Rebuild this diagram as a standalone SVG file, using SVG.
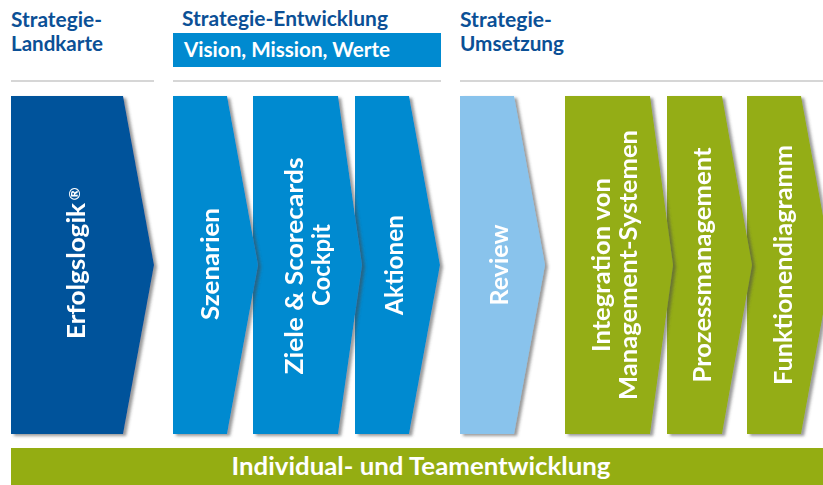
<svg xmlns="http://www.w3.org/2000/svg" width="823" height="485" viewBox="0 0 823 485">
<defs>
<filter id="sh" x="-10%" y="-5%" width="130%" height="115%">
<feDropShadow dx="3" dy="2" stdDeviation="1.6" flood-color="#4a4a4a" flood-opacity="0.55"/>
</filter>
<style>
.hd{font-family:Lato,"Liberation Sans",sans-serif;font-weight:700;font-size:20px;fill:#0b5096}
.lb{font-family:Lato,"Liberation Sans",sans-serif;font-weight:700;font-size:25px;fill:#ffffff}
.rule{stroke:#c8c8c8;stroke-width:1.5;fill:none}
.dk{fill:#00539b}
.md{fill:#008ad0}
.lt{fill:#89c3ec}
.gr{fill:#94ad12}
</style>
</defs>
<rect width="823" height="485" fill="#ffffff"/>

<g id="headings">
<text class="hd" x="11" y="27" textLength="91" lengthAdjust="spacingAndGlyphs">Strategie-</text>
<text class="hd" x="11" y="51" textLength="92" lengthAdjust="spacingAndGlyphs">Landkarte</text>
<text class="hd" x="182" y="26" textLength="206" lengthAdjust="spacingAndGlyphs">Strategie-Entwicklung</text>
<text class="hd" x="460" y="27" textLength="92" lengthAdjust="spacingAndGlyphs">Strategie-</text>
<text class="hd" x="460" y="51" textLength="104" lengthAdjust="spacingAndGlyphs">Umsetzung</text>
</g>

<g id="vision">
<rect x="173" y="33" width="268" height="34" fill="#008ad0"/>
<text class="hd" x="184" y="57" style="fill:#ffffff" textLength="206" lengthAdjust="spacingAndGlyphs">Vision, Mission, Werte</text>
</g>

<g id="rules">
<line class="rule" x1="11" y1="81" x2="154" y2="81"/>
<line class="rule" x1="173" y1="81" x2="441" y2="81"/>
<line class="rule" x1="460" y1="81" x2="823" y2="81"/>
</g>

<g id="funktionendiagramm" filter="url(#sh)">
<polygon class="gr" points="747,96 801,96 832,265 801,434 747,434"/>
<text class="lb" transform="translate(792,265) rotate(-90)" text-anchor="middle" textLength="240" lengthAdjust="spacingAndGlyphs">Funktionendiagramm</text>
</g>
<g id="prozessmanagement" filter="url(#sh)">
<polygon class="gr" points="667,96 722,96 752,265 722,434 667,434"/>
<text class="lb" transform="translate(711,265) rotate(-90)" text-anchor="middle" textLength="235" lengthAdjust="spacingAndGlyphs">Prozessmanagement</text>
</g>
<g id="integration" filter="url(#sh)">
<polygon class="gr" points="565,96 650,96 673,265 650,434 565,434"/>
<text class="lb" transform="translate(610,265) rotate(-90)" text-anchor="middle" textLength="174" lengthAdjust="spacingAndGlyphs">Integration von</text>
<text class="lb" transform="translate(637,265) rotate(-90)" text-anchor="middle" textLength="270" lengthAdjust="spacingAndGlyphs">Management-Systemen</text>
</g>
<g id="review" filter="url(#sh)">
<polygon class="lt" points="460,96 514,96 545,265 514,434 460,434"/>
<text class="lb" transform="translate(508,265) rotate(-90)" text-anchor="middle">Review</text>
</g>
<g id="aktionen" filter="url(#sh)">
<polygon class="md" points="355,96 409,96 440,265 409,434 355,434"/>
<text class="lb" transform="translate(403,265) rotate(-90)" text-anchor="middle" textLength="100" lengthAdjust="spacingAndGlyphs">Aktionen</text>
</g>
<g id="ziele" filter="url(#sh)">
<polygon class="md" points="253,96 338,96 362,265 338,434 253,434"/>
<text class="lb" transform="translate(303,266) rotate(-90)" text-anchor="middle" textLength="217" lengthAdjust="spacingAndGlyphs">Ziele &amp; Scorecards</text>
<text class="lb" transform="translate(330,265) rotate(-90)" text-anchor="middle" textLength="82" lengthAdjust="spacingAndGlyphs">Cockpit</text>
</g>
<g id="szenarien" filter="url(#sh)">
<polygon class="md" points="173,96 227,96 258,265 227,434 173,434"/>
<text class="lb" transform="translate(219,264) rotate(-90)" text-anchor="middle" textLength="112" lengthAdjust="spacingAndGlyphs">Szenarien</text>
</g>
<g id="erfolgslogik" filter="url(#sh)">
<polygon class="dk" points="11,96 123,96 154,265 123,434 11,434"/>
<text class="lb" transform="translate(85,271) rotate(-90)" text-anchor="middle" textLength="136" lengthAdjust="spacingAndGlyphs">Erfolgslogik</text>
<text class="lb" transform="translate(80,194) rotate(-90)" text-anchor="middle" style="font-size:16px">®</text>
</g>

<g id="teamentwicklung">
<rect x="11" y="448" width="812" height="37" class="gr"/>
<text class="lb" x="421" y="475" text-anchor="middle" textLength="379" lengthAdjust="spacingAndGlyphs">Individual- und Teamentwicklung</text>
</g>
</svg>
